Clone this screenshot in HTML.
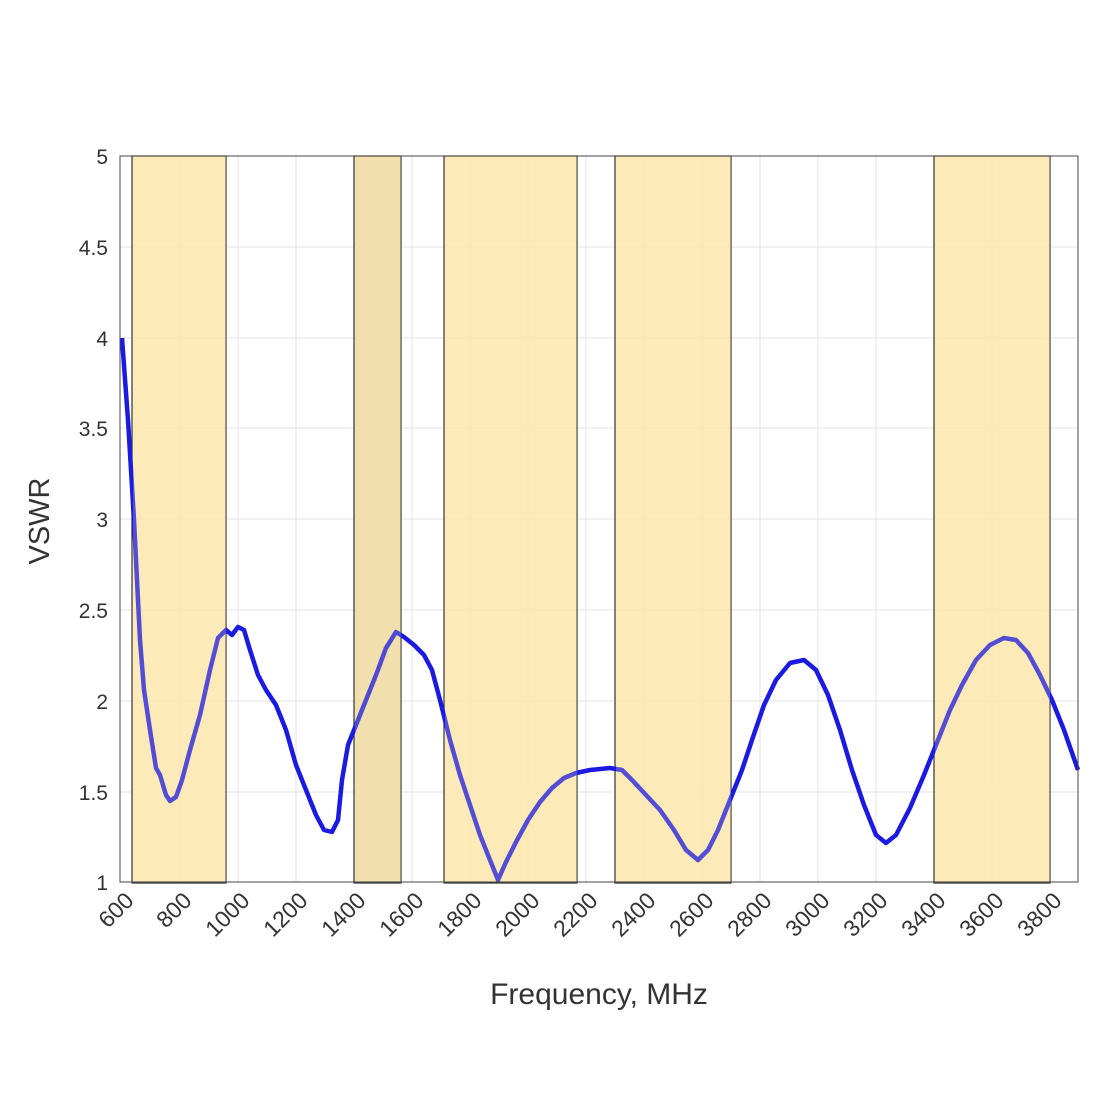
<!DOCTYPE html>
<html><head><style>body{margin:0;background:#fff}</style></head><body>
<svg width="1100" height="1100" xmlns="http://www.w3.org/2000/svg" font-family="Liberation Sans, sans-serif">
<rect width="1100" height="1100" fill="#fff"/>
<g stroke="#e3e3e3" stroke-width="1">
<line x1="120" x2="1078" y1="247" y2="247"/><line x1="120" x2="1078" y1="338" y2="338"/><line x1="120" x2="1078" y1="428" y2="428"/><line x1="120" x2="1078" y1="519" y2="519"/><line x1="120" x2="1078" y1="610" y2="610"/><line x1="120" x2="1078" y1="701" y2="701"/><line x1="120" x2="1078" y1="792" y2="792"/>
<line x1="180" x2="180" y1="156" y2="882"/><line x1="238" x2="238" y1="156" y2="882"/><line x1="296" x2="296" y1="156" y2="882"/><line x1="354" x2="354" y1="156" y2="882"/><line x1="412" x2="412" y1="156" y2="882"/><line x1="470" x2="470" y1="156" y2="882"/><line x1="528" x2="528" y1="156" y2="882"/><line x1="586" x2="586" y1="156" y2="882"/><line x1="644" x2="644" y1="156" y2="882"/><line x1="702" x2="702" y1="156" y2="882"/><line x1="760" x2="760" y1="156" y2="882"/><line x1="818" x2="818" y1="156" y2="882"/><line x1="876" x2="876" y1="156" y2="882"/><line x1="934" x2="934" y1="156" y2="882"/><line x1="992" x2="992" y1="156" y2="882"/><line x1="1050" x2="1050" y1="156" y2="882"/>
</g>
<g stroke="#333" stroke-width="1.2" fill-opacity="0.85">
<rect x="132" y="156" width="94" height="727" fill="#fde8b0"/>
<rect x="354" y="156" width="47" height="727" fill="#f0dba2"/>
<rect x="444" y="156" width="133" height="727" fill="#fde8b0"/>
<rect x="615" y="156" width="116" height="727" fill="#fde8b0"/>
<rect x="934" y="156" width="116" height="727" fill="#fde8b0"/>
</g>
<polyline fill="none" stroke="#1a1ae0" stroke-width="4.5" stroke-linejoin="round" points="122,338 128,420 134,520 140,640 144,690 150,730 156,768 160,775 166,795 170,801 176,797 182,780 190,750 200,715 210,670 218,638 226,630 232,635 238,627 244,630 250,650 258,675 266,690 276,705 286,730 296,765 306,790 316,815 324,830 332,832 338,820 342,780 348,745 356,725 366,700 376,675 386,648 396,632 404,637 414,645 424,655 432,670 440,700 450,740 460,775 470,805 480,835 490,860 498,880 506,862 516,842 528,820 540,802 552,788 564,778 576,773 590,770 610,768 622,770 632,780 646,795 660,810 674,830 686,850 698,860 708,850 718,830 730,800 742,770 752,740 764,705 776,680 790,663 804,660 816,670 828,695 840,730 852,770 864,805 876,835 886,843 896,835 910,808 924,775 938,740 950,710 962,685 976,660 990,645 1004,638 1016,640 1028,653 1040,675 1052,700 1064,730 1078,770"/>
<g stroke="none" fill-opacity="0.25">
<rect x="133" y="156" width="93" height="726" fill="#fde8b0"/>
<rect x="355" y="156" width="46" height="726" fill="#f0dba2"/>
<rect x="445" y="156" width="132" height="726" fill="#fde8b0"/>
<rect x="616" y="156" width="115" height="726" fill="#fde8b0"/>
<rect x="935" y="156" width="115" height="726" fill="#fde8b0"/>
</g>
<rect x="120" y="156" width="958" height="726" fill="none" stroke="#444" stroke-width="1"/>
<g font-size="21" fill="#333" text-anchor="end">
<text x="108" y="164">5</text><text x="108" y="255">4.5</text><text x="108" y="346">4</text><text x="108" y="436">3.5</text><text x="108" y="527">3</text><text x="108" y="618">2.5</text><text x="108" y="709">2</text><text x="108" y="800">1.5</text><text x="108" y="890">1</text>
</g>
<g font-size="23" fill="#333" text-anchor="end">
<text transform="translate(135,902) rotate(-45)">600</text><text transform="translate(193,902) rotate(-45)">800</text><text transform="translate(251,902) rotate(-45)">1000</text><text transform="translate(309,902) rotate(-45)">1200</text><text transform="translate(367,902) rotate(-45)">1400</text><text transform="translate(425,902) rotate(-45)">1600</text><text transform="translate(483,902) rotate(-45)">1800</text><text transform="translate(541,902) rotate(-45)">2000</text><text transform="translate(599,902) rotate(-45)">2200</text><text transform="translate(657,902) rotate(-45)">2400</text><text transform="translate(715,902) rotate(-45)">2600</text><text transform="translate(773,902) rotate(-45)">2800</text><text transform="translate(831,902) rotate(-45)">3000</text><text transform="translate(889,902) rotate(-45)">3200</text><text transform="translate(947,902) rotate(-45)">3400</text><text transform="translate(1005,902) rotate(-45)">3600</text><text transform="translate(1063,902) rotate(-45)">3800</text>
</g>
<text x="599" y="1004" font-size="30" fill="#333" text-anchor="middle">Frequency, MHz</text>
<text transform="translate(49,521) rotate(-90)" font-size="29" fill="#333" text-anchor="middle">VSWR</text>
</svg>
</body></html>
